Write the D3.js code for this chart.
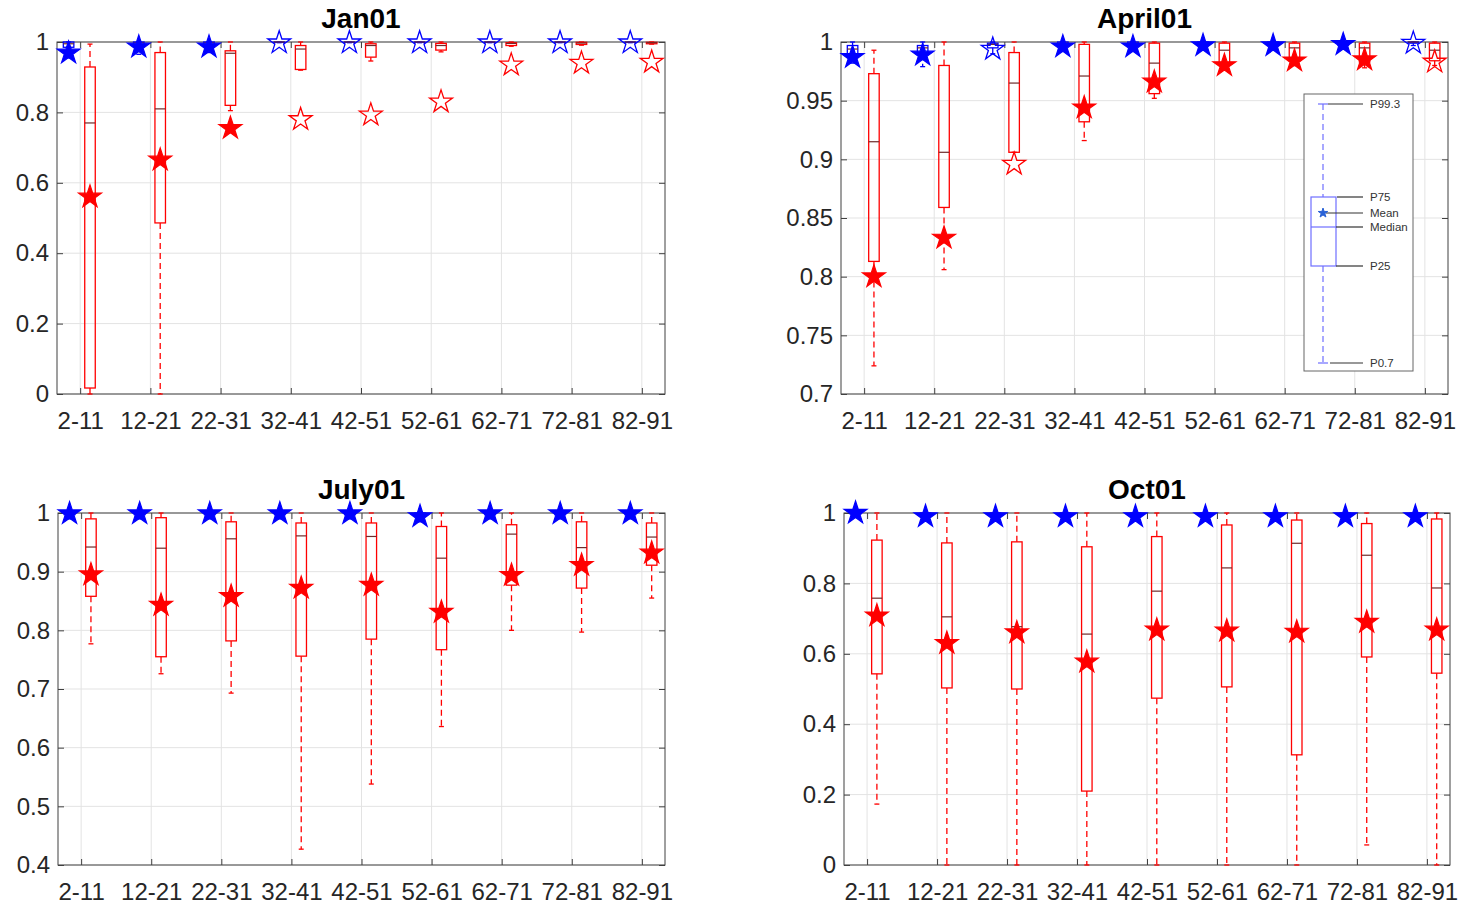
<!DOCTYPE html>
<html>
<head>
<meta charset="utf-8">
<script src="https://cdn.jsdelivr.net/npm/d3@7"></script>
<style>
  body { margin: 0; background: #fff; }
  svg text { font-family: "Liberation Sans", Arial, Helvetica, sans-serif; }
</style>
</head>
<body>
<svg id="chart" width="1463" height="906"></svg>
<script>
// Age groups on the x axis
const categories = ["2-11", "12-21", "22-31", "32-41", "42-51", "52-61", "62-71", "72-81", "82-91"];

// Y tick values per panel
const janYTicks = [0, 0.2, 0.4, 0.6, 0.8, 1];
const aprYTicks = [0.7, 0.75, 0.8, 0.85, 0.9, 0.95, 1];
const julYTicks = [0.4, 0.5, 0.6, 0.7, 0.8, 0.9, 1];
const octYTicks = [0, 0.2, 0.4, 0.6, 0.8, 1];

// Box rows: [P0.7, P25, Median, P75, P99.3]; means; filled flag (1 = filled star)
const janBlueBox = [
  [0.955, 0.985, 0.995, 1, 1], [0.965, 0.99, 0.998, 1, 1], [0.97, 0.992, 0.998, 1, 1],
  [0.998, 0.999, 1, 1, 1], [0.998, 0.999, 1, 1, 1], [0.998, 0.999, 1, 1, 1],
  [0.998, 0.999, 1, 1, 1], [0.998, 0.999, 1, 1, 1], [0.998, 0.999, 1, 1, 1]
];
const janBlueMean = [0.969, 0.986, 0.986, 0.998, 0.998, 0.998, 0.998, 0.998, 0.998];
const janBlueFilled = [1, 1, 1, 0, 0, 0, 0, 0, 0];
const janRedBox = [
  [0, 0.017, 0.77, 0.929, 0.994], [0, 0.486, 0.81, 0.97, 1], [0.805, 0.82, 0.968, 0.975, 1],
  [0.92, 0.922, 0.98, 0.99, 1], [0.946, 0.957, 0.99, 0.995, 1], [0.972, 0.977, 0.99, 0.996, 1],
  [0.988, 0.99, 0.996, 0.998, 1], [0.991, 0.993, 0.997, 0.999, 1], [0.994, 0.995, 0.998, 0.999, 1]
];
const janRedMean = [0.56, 0.665, 0.755, 0.78, 0.793, 0.83, 0.935, 0.94, 0.943];
const janRedFilled = [1, 1, 1, 0, 0, 0, 0, 0, 0];

const aprBlueBox = [
  [0.982, 0.99, 0.994, 0.997, 1], [0.979, 0.99, 0.995, 0.997, 1], [0.99, 0.995, 0.998, 0.999, 1],
  [0.994, 0.997, 0.999, 1, 1], [0.994, 0.997, 0.999, 1, 1], [0.994, 0.997, 0.999, 1, 1],
  [0.994, 0.997, 0.999, 1, 1], [0.994, 0.997, 0.999, 1, 1], [0.997, 0.999, 1, 1, 1]
];
const aprBlueMean = [0.987, 0.989, 0.994, 0.996, 0.996, 0.997, 0.997, 0.998, 0.999];
const aprBlueFilled = [1, 1, 0, 1, 1, 1, 1, 1, 0];
const aprRedBox = [
  [0.724, 0.813, 0.915, 0.973, 0.993], [0.806, 0.859, 0.906, 0.98, 1], [0.906, 0.906, 0.965, 0.991, 1],
  [0.916, 0.932, 0.971, 0.998, 1], [0.952, 0.956, 0.982, 0.999, 1], [0.978, 0.982, 0.993, 0.999, 1],
  [0.98, 0.984, 0.995, 0.999, 1], [0.978, 0.983, 0.995, 0.999, 1], [0.98, 0.984, 0.993, 0.999, 1]
];
const aprRedMean = [0.80, 0.833, 0.896, 0.944, 0.966, 0.980, 0.984, 0.985, 0.983];
const aprRedFilled = [1, 1, 0, 1, 1, 1, 1, 1, 0];

const julBlueBox = [
  [0.99, 0.997, 1, 1, 1], [0.99, 0.997, 1, 1, 1], [0.99, 0.997, 1, 1, 1],
  [0.99, 0.997, 1, 1, 1], [0.99, 0.997, 1, 1, 1], [0.985, 0.995, 0.999, 1, 1],
  [0.99, 0.997, 1, 1, 1], [0.99, 0.997, 1, 1, 1], [0.99, 0.997, 1, 1, 1]
];
const julBlueMean = [0.999, 0.999, 0.999, 0.999, 0.999, 0.994, 0.999, 0.999, 0.999];
const julBlueFilled = [1, 1, 1, 1, 1, 1, 1, 1, 1];
const julRedBox = [
  [0.777, 0.858, 0.942, 0.99, 1], [0.726, 0.755, 0.94, 0.992, 1], [0.693, 0.782, 0.956, 0.985, 1],
  [0.427, 0.756, 0.961, 0.983, 1], [0.538, 0.785, 0.96, 0.983, 1], [0.636, 0.767, 0.923, 0.977, 1],
  [0.80, 0.877, 0.964, 0.98, 1], [0.797, 0.872, 0.941, 0.985, 1], [0.855, 0.911, 0.959, 0.983, 1]
];
const julRedMean = [0.895, 0.843, 0.858, 0.872, 0.877, 0.831, 0.894, 0.911, 0.932];
const julRedFilled = [1, 1, 1, 1, 1, 1, 1, 1, 1];

const octBlueBox = [
  [0.99, 0.997, 1, 1, 1], [0.98, 0.995, 0.999, 1, 1], [0.98, 0.995, 0.999, 1, 1],
  [0.98, 0.995, 0.999, 1, 1], [0.98, 0.995, 0.999, 1, 1], [0.98, 0.995, 0.999, 1, 1],
  [0.98, 0.995, 0.999, 1, 1], [0.98, 0.995, 0.999, 1, 1], [0.98, 0.995, 0.999, 1, 1]
];
const octBlueMean = [1.0, 0.99, 0.99, 0.99, 0.99, 0.99, 0.99, 0.99, 0.99];
const octBlueFilled = [1, 1, 1, 1, 1, 1, 1, 1, 1];
const octRedBox = [
  [0.173, 0.543, 0.758, 0.923, 1], [0, 0.503, 0.705, 0.915, 1], [0, 0.50, 0.677, 0.918, 1],
  [0, 0.21, 0.656, 0.904, 1], [0, 0.474, 0.778, 0.933, 1], [0, 0.506, 0.844, 0.966, 1],
  [0, 0.313, 0.914, 0.98, 1], [0.057, 0.591, 0.88, 0.97, 1], [0, 0.545, 0.787, 0.983, 1]
];
const octRedMean = [0.708, 0.630, 0.660, 0.577, 0.668, 0.665, 0.662, 0.690, 0.668];
const octRedFilled = [1, 1, 1, 1, 1, 1, 1, 1, 1];

// Legend key labels
const keyLabels = ["P99.3", "P75", "Mean", "Median", "P25", "P0.7"];

const BLUE = "#0000ff", RED = "#ff0000";
const AXIS = "#404040", GRID = "#e3e3e3", TEXT = "#262626";

const panels = [
  { title: "Jan01", frame: [57, 42, 665, 394], yDomain: [0, 1], yTicks: janYTicks,
    series: [[janBlueBox, janBlueMean, janBlueFilled, BLUE, -0.165], [janRedBox, janRedMean, janRedFilled, RED, 0.14]] },
  { title: "April01", frame: [841, 42, 1448, 394], yDomain: [0.7, 1], yTicks: aprYTicks, key: true,
    series: [[aprBlueBox, aprBlueMean, aprBlueFilled, BLUE, -0.165], [aprRedBox, aprRedMean, aprRedFilled, RED, 0.14]] },
  { title: "July01", frame: [58, 513, 665, 865], yDomain: [0.4, 1], yTicks: julYTicks,
    series: [[julBlueBox, julBlueMean, julBlueFilled, BLUE, -0.165], [julRedBox, julRedMean, julRedFilled, RED, 0.14]] },
  { title: "Oct01", frame: [844, 513, 1450, 865], yDomain: [0, 1], yTicks: octYTicks,
    series: [[octBlueBox, octBlueMean, octBlueFilled, BLUE, -0.165], [octRedBox, octRedMean, octRedFilled, RED, 0.14]] }
];

const svg = d3.select("#chart");
const starPath = r => d3.symbol().type(d3.symbolStar).size(r * r / 0.8908130915292852)();
const fmt = v => String(+v.toFixed(2));

function drawPanel(p) {
  const [x0, y0, x1, y1] = p.frame;
  const x = d3.scaleLinear().domain([0.67, 9.33]).range([x0, x1]);
  const y = d3.scaleLinear().domain(p.yDomain).range([y1, y0]);
  const g = svg.append("g");
  const idx = categories.map((c, i) => i + 1);

  // grid
  g.append("g").selectAll("line").data(idx).join("line")
    .attr("x1", d => x(d)).attr("x2", d => x(d)).attr("y1", y0).attr("y2", y1)
    .attr("stroke", GRID).attr("stroke-width", 1);
  g.append("g").selectAll("line").data(p.yTicks).join("line")
    .attr("x1", x0).attr("x2", x1).attr("y1", d => y(d)).attr("y2", d => y(d))
    .attr("stroke", GRID).attr("stroke-width", 1);

  // axes with inward ticks
  const xa = g.append("g").attr("transform", `translate(0,${y1})`)
    .call(d3.axisBottom(x).tickValues(idx).tickFormat((d, i) => categories[i]).tickSize(-6).tickPadding(18));
  const ya = g.append("g").attr("transform", `translate(${x0},0)`)
    .call(d3.axisLeft(y).tickValues(p.yTicks).tickFormat(fmt).tickSize(-6).tickPadding(8));
  const xt = g.append("g").attr("transform", `translate(0,${y0})`)
    .call(d3.axisTop(x).tickValues(idx).tickFormat("").tickSize(-6));
  const yr = g.append("g").attr("transform", `translate(${x1},0)`)
    .call(d3.axisRight(y).tickValues(p.yTicks).tickFormat("").tickSize(-6));
  [xa, ya, xt, yr].forEach(a => {
    a.select(".domain").remove();
    a.selectAll(".tick line").attr("stroke", AXIS);
    a.selectAll("text").attr("font-size", 24).attr("fill", TEXT);
  });
  g.append("rect").attr("x", x0).attr("y", y0).attr("width", x1 - x0).attr("height", y1 - y0)
    .attr("fill", "none").attr("stroke", AXIS).attr("stroke-width", 1);

  // title
  g.append("text").attr("x", (x0 + x1) / 2).attr("y", y0 - 14).attr("text-anchor", "middle")
    .attr("font-size", 28).attr("font-weight", "bold").attr("fill", "#000").text(p.title);

  const bw = (x(1.15) - x(1)) / 2;
  const capW = 2.5;

  // boxes
  p.series.forEach(([box, mean, filled, color, off]) => {
    const sg = g.append("g");
    box.forEach((r, i) => {
      const cx = x(i + 1 + off);
      const [lo, q1, med, q3, hi] = r;
      sg.append("line").attr("x1", cx).attr("x2", cx).attr("y1", y(q3)).attr("y2", y(hi))
        .attr("stroke", color).attr("stroke-width", 1.3).attr("stroke-dasharray", "6,4");
      sg.append("line").attr("x1", cx).attr("x2", cx).attr("y1", y(q1)).attr("y2", y(lo))
        .attr("stroke", color).attr("stroke-width", 1.3).attr("stroke-dasharray", "6,4");
      [lo, hi].forEach(v => sg.append("line").attr("x1", cx - capW).attr("x2", cx + capW)
        .attr("y1", y(v)).attr("y2", y(v)).attr("stroke", color).attr("stroke-width", 1.3));
      sg.append("rect").attr("x", cx - bw).attr("y", y(q3)).attr("width", 2 * bw)
        .attr("height", Math.max(0, y(q1) - y(q3)))
        .attr("fill", "none").attr("stroke", color).attr("stroke-width", 1.3);
      sg.append("line").attr("x1", cx - bw).attr("x2", cx + bw).attr("y1", y(med)).attr("y2", y(med))
        .attr("stroke", "#6e2a2a").attr("stroke-width", 1.2);
    });
  });

  // mean stars on top
  p.series.forEach(([box, mean, filled, color, off]) => {
    g.append("g").selectAll("path").data(mean).join("path")
      .attr("d", starPath(12))
      .attr("transform", (d, i) => `translate(${x(i + 1 + off)},${y(d)})`)
      .attr("fill", (d, i) => filled[i] ? color : "none")
      .attr("stroke", color).attr("stroke-width", (d, i) => filled[i] ? 1.2 : 1.3)
      .attr("stroke-linejoin", "miter");
  });

  if (p.key) drawKey(1304, 94);
}

// Key explaining the box elements
function drawKey(lx, ly) {
  const k = svg.append("g").attr("transform", `translate(${lx},${ly})`);
  const kb = "#6f6fff";
  k.append("rect").attr("width", 109).attr("height", 277).attr("fill", "#fff").attr("stroke", "#666").attr("stroke-width", 1);
  const cx = 19, top = 10, q3 = 103, med = 133, q1 = 172, bot = 269, meanY = 119;
  k.append("line").attr("x1", cx).attr("x2", cx).attr("y1", top).attr("y2", q3)
    .attr("stroke", kb).attr("stroke-width", 1.2).attr("stroke-dasharray", "6,4");
  k.append("line").attr("x1", cx).attr("x2", cx).attr("y1", q1).attr("y2", bot)
    .attr("stroke", kb).attr("stroke-width", 1.2).attr("stroke-dasharray", "6,4");
  [top, bot].forEach(v => k.append("line").attr("x1", cx - 5).attr("x2", cx + 5).attr("y1", v).attr("y2", v)
    .attr("stroke", kb).attr("stroke-width", 1.2));
  k.append("rect").attr("x", 7).attr("y", q3).attr("width", 25).attr("height", q1 - q3)
    .attr("fill", "none").attr("stroke", kb).attr("stroke-width", 1.2);
  k.append("line").attr("x1", 7).attr("x2", 32).attr("y1", med).attr("y2", med)
    .attr("stroke", kb).attr("stroke-width", 1.2);
  const lines = [[24, top], [33, q3], [22, meanY], [32, med], [32, q1], [26, bot]];
  lines.forEach(([sx, ly2], i) => {
    k.append("line").attr("x1", sx).attr("x2", 59).attr("y1", ly2).attr("y2", ly2)
      .attr("stroke", "#333").attr("stroke-width", 1.2);
    k.append("text").attr("x", 66).attr("y", ly2).attr("dy", "0.35em")
      .attr("font-size", 11.5).attr("fill", "#333").text(keyLabels[i]);
  });
  k.append("path").attr("d", starPath(5)).attr("transform", `translate(${cx},${meanY})`)
    .attr("fill", "#2a62d6").attr("stroke", "#2a62d6");
}

panels.forEach(drawPanel);
</script>
</body>
</html>
